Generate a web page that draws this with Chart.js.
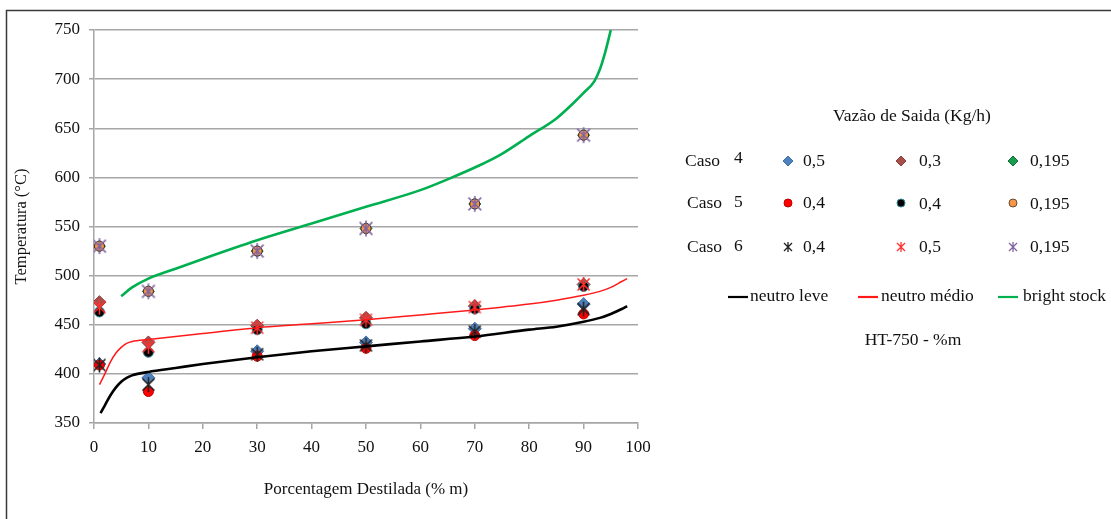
<!DOCTYPE html>
<html>
<head>
<meta charset="utf-8">
<script src="https://cdn.jsdelivr.net/npm/chart.js@4.4.1/dist/chart.umd.min.js"></script>
<style>
  html, body { margin: 0; padding: 0; background: #fff; }
  #wrap { width: 1111px; height: 519px; position: relative; }
</style>
</head>
<body>
<div id="wrap"><canvas id="c" width="1111" height="519"></canvas></div>
<script>
// Distilled fraction (% m) where samples were taken
const distPct = [1, 10, 30, 50, 70, 90];

// Caso 4 (diamonds)
const caso4Flows = ['0,5', '0,3', '0,195'];
const caso4_a = [410, 396, 423, 432, 446, 471];
const caso4_b = [473, 432, 449, 457, 469, 491];
const caso4_c = [530, 484, 525, 548, 573, 643];

// Caso 5 (circles)
const caso5Flows = ['0,4', '0,4', '0,195'];
const caso5_a = [409, 382, 418, 426, 439, 461];
const caso5_b = [463, 422, 445, 451, 466, 489];
const caso5_c = [530, 484, 525, 548, 573, 643];

// Caso 6 (stars)
const caso6Flows = ['0,4', '0,5', '0,195'];
const caso6_a = [409, 389, 420, 429, 443, 466];
const caso6_b = [468, 428, 447, 455, 468, 491];
const caso6_c = [530, 484, 525, 548, 573, 643];

// HT-750 reference curves (% m, °C)
const leveX = [1.2, 2, 3, 4, 5, 6, 7, 8, 10, 15, 20, 30, 40, 50, 60, 70, 80, 85, 90, 93, 95, 97, 98];
const leveY = [360, 368, 378, 386, 392, 396, 398.5, 400, 402, 406, 410, 417, 423, 428, 433, 438, 445, 448, 453, 457, 461, 466, 469];
const medioX = [1, 2, 3, 4, 5, 6, 7, 10, 20, 30, 40, 50, 60, 70, 80, 85, 90, 93, 95, 97, 98];
const medioY = [389, 400, 412, 421, 427, 431, 433, 435, 441, 447, 451, 455, 460, 465, 471, 475, 480, 484, 488, 494, 497];
const brightX = [5, 7, 10, 15, 20, 30, 40, 50, 60, 65, 70, 75, 80, 85, 88, 90, 92, 93, 94, 95];
const brightY = [479, 488, 497, 507, 517, 536, 553, 570, 587, 598, 610, 624, 642, 660, 675, 686, 698, 710, 728, 750];

// Axis ticks
const xTicks = [0, 10, 20, 30, 40, 50, 60, 70, 80, 90, 100];
const yTicks = [350, 400, 450, 500, 550, 600, 650, 700, 750];

const SERIF = '"Liberation Serif", "Times New Roman", serif';

function pts(xs, ys) { return xs.map((x, i) => ({ x: x, y: ys[i] })); }

// Asterisk marker: an X with a vertical stroke
function starImg(color, size, lw) {
  const c = document.createElement('canvas');
  c.width = size; c.height = size;
  const g = c.getContext('2d');
  g.strokeStyle = color; g.lineWidth = lw; g.lineCap = 'butt';
  const m = size / 2, r = size / 2 - 1, d = r * 0.8;
  g.beginPath();
  g.moveTo(m - d, m - d); g.lineTo(m + d, m + d);
  g.moveTo(m + d, m - d); g.lineTo(m - d, m + d);
  g.moveTo(m, m - r); g.lineTo(m, m + r);
  g.stroke();
  return c;
}

const COL = {
  blue: '#4f81bd', brown: '#a5504c', green: '#1a9c4f',
  red: '#ff0000', black: '#000000', orange: '#f79646',
  starBlack: '#222222', starRed: '#ff3030', starPurple: '#8064a2'
};

const starK = starImg(COL.starBlack, 17, 1.6);
const starR = starImg(COL.starRed, 17, 1.6);
const starP = starImg(COL.starPurple, 18, 1.5);
const starKs = starImg(COL.starBlack, 12, 1.3);
const starRs = starImg(COL.starRed, 12, 1.3);
const starPs = starImg(COL.starPurple, 12, 1.3);

function markerSet(label, data, style, fill, border, radius, order) {
  return {
    type: 'scatter', label: label, data: pts(distPct, data),
    pointStyle: style, pointRadius: radius, pointHoverRadius: radius,
    backgroundColor: fill, borderColor: border, pointBorderWidth: 1,
    showLine: false, order: order
  };
}

function curveSet(label, xs, ys, color, width, order) {
  return {
    type: 'line', label: label, data: pts(xs, ys),
    borderColor: color, backgroundColor: color, borderWidth: width,
    pointRadius: 0, pointHoverRadius: 0, fill: false,
    cubicInterpolationMode: 'monotone', order: order
  };
}

const datasets = [
  curveSet('neutro leve', leveX, leveY, '#000000', 2.6, 1),
  curveSet('neutro médio', medioX, medioY, '#ff1a1a', 1.5, 2),
  curveSet('bright stock', brightX, brightY, '#00b050', 2.6, 3),
  // lower cluster
  markerSet('Caso 6 ' + caso6Flows[0], caso6_a, starK, COL.starBlack, COL.starBlack, 8, 10),
  markerSet('Caso 5 ' + caso5Flows[0], caso5_a, 'circle', COL.red, '#c00000', 5, 11),
  markerSet('Caso 4 ' + caso4Flows[0], caso4_a, 'rectRot', COL.blue, '#3f6ea8', 6.5, 12),
  // middle cluster
  markerSet('Caso 6 ' + caso6Flows[1], caso6_b, starR, COL.starRed, COL.starRed, 8, 13),
  markerSet('Caso 5 ' + caso5Flows[1], caso5_b, 'circle', COL.black, '#2f8796', 5, 14),
  markerSet('Caso 4 ' + caso4Flows[1], caso4_b, 'rectRot', COL.brown, '#8d3e3b', 6.5, 15),
  // upper cluster
  markerSet('Caso 6 ' + caso6Flows[2], caso6_c, starP, COL.starPurple, COL.starPurple, 9, 16),
  markerSet('Caso 5 ' + caso5Flows[2], caso5_c, 'circle', COL.orange, '#3a2a20', 5, 17),
  markerSet('Caso 4 ' + caso4Flows[2], caso4_c, 'rectRot', COL.green, '#0e6e36', 6, 18)
];

function marker(ctx, style, fill, border, r, x, y) {
  ctx.save();
  ctx.fillStyle = fill; ctx.strokeStyle = border; ctx.lineWidth = 1;
  if (style === 'circle') {
    ctx.beginPath(); ctx.arc(x, y, r, 0, Math.PI * 2); ctx.fill(); ctx.stroke();
  } else if (style === 'rectRot') {
    ctx.beginPath();
    ctx.moveTo(x, y - r); ctx.lineTo(x + r, y); ctx.lineTo(x, y + r); ctx.lineTo(x - r, y);
    ctx.closePath(); ctx.fill(); ctx.stroke();
  } else {
    ctx.drawImage(style, x - style.width / 2, y - style.height / 2);
  }
  ctx.restore();
}

const panelPlugin = {
  id: 'panel',
  beforeDraw(chart) {
    const ctx = chart.ctx;
    ctx.save();
    ctx.fillStyle = '#fff';
    ctx.fillRect(0, 0, chart.width, chart.height);
    ctx.strokeStyle = '#3a3a3a';
    ctx.lineWidth = 1.5;
    ctx.beginPath();
    ctx.moveTo(6.5, chart.height); ctx.lineTo(6.5, 10.5); ctx.lineTo(chart.width, 10.5);
    ctx.stroke();
    ctx.restore();
  },
  afterDraw(chart) {
    const ctx = chart.ctx;
    ctx.save();
    ctx.fillStyle = '#111';
    ctx.textBaseline = 'middle';
    ctx.textAlign = 'left';
    ctx.font = '17.5px ' + SERIF;
    ctx.fillText('Vazão de Saida (Kg/h)', 833, 116);

    const rows = [
      { num: '4', y: 161, flows: caso4Flows,
        m: [['rectRot', COL.blue, '#3f6ea8', 5], ['rectRot', COL.brown, '#8d3e3b', 5], ['rectRot', COL.green, '#0e6e36', 5]] },
      { num: '5', y: 203, flows: caso5Flows,
        m: [['circle', COL.red, '#c00000', 4], ['circle', COL.black, '#2f8796', 4], ['circle', COL.orange, '#6b4a30', 4]] },
      { num: '6', y: 247, flows: caso6Flows,
        m: [[starKs, '', '', 0], [starRs, '', '', 0], [starPs, '', '', 0]] }
    ];
    const mx = [788, 901, 1013];
    const tx = [803, 919, 1030];
    rows.forEach((row, ri) => {
      ctx.fillStyle = '#111';
      ctx.fillText('Caso', ri === 0 ? 685 : 687, row.y);
      ctx.fillText(row.num, 734, row.y - (ri === 0 ? 3 : 1));
      row.m.forEach((m, i) => {
        marker(ctx, m[0], m[1], m[2], m[3], mx[i], row.y);
        ctx.fillStyle = '#111';
        ctx.fillText(row.flows[i], tx[i], row.y + (ri === 1 && i > 0 ? 1 : 0));
      });
    });

    // curve keys
    const keys = [
      ['neutro leve', '#000000', 728, 750],
      ['neutro médio', '#ff1a1a', 858, 881],
      ['bright stock', '#00b050', 998, 1023]
    ];
    keys.forEach(k => {
      ctx.strokeStyle = k[1]; ctx.lineWidth = 2.2;
      ctx.beginPath(); ctx.moveTo(k[2], 297); ctx.lineTo(k[2] + 20, 297); ctx.stroke();
      ctx.fillStyle = '#111';
      ctx.fillText(k[0], k[3], 296);
    });

    ctx.textAlign = 'center';
    ctx.fillText('HT-750 - %m', 913, 340);
    ctx.restore();
  }
};

new Chart(document.getElementById('c'), {
  type: 'scatter',
  data: { datasets: datasets },
  plugins: [panelPlugin],
  options: {
    responsive: false,
    animation: false,
    devicePixelRatio: 1,
    layout: { padding: { left: 0, top: 30, right: 473, bottom: 0 } },
    plugins: { legend: { display: false }, tooltip: { enabled: false } },
    scales: {
      x: {
        type: 'linear', min: 0, max: 100,
        afterFit(s) { s.height = 96; },
        afterBuildTicks(s) { s.ticks = xTicks.map(v => ({ value: v })); },
        border: { display: true, color: '#a6a6a6', width: 1.5 },
        grid: { drawOnChartArea: false, drawTicks: true, tickLength: 6, color: '#a6a6a6', lineWidth: 1.5 },
        ticks: { padding: 8, color: '#111', font: { family: SERIF, size: 17 }, maxRotation: 0 },
        title: { display: true, text: 'Porcentagem Destilada (% m)', color: '#111',
                 font: { family: SERIF, size: 17 }, padding: { top: 0, bottom: 19 } }
      },
      y: {
        type: 'linear', min: 350, max: 750,
        afterFit(s) { s.width = 94; },
        afterBuildTicks(s) { s.ticks = yTicks.map(v => ({ value: v })); },
        border: { display: true, color: '#a6a6a6', width: 1.5 },
        grid: { drawOnChartArea: true, drawTicks: true, tickLength: 5, color: '#a6a6a6', lineWidth: 1.5 },
        ticks: { padding: 9, color: '#111', font: { family: SERIF, size: 17 } },
        title: { display: true, text: 'Temperatura (°C)', color: '#111',
                 font: { family: SERIF, size: 16.5 }, padding: { top: 12, bottom: 0 } }
      }
    }
  }
});
</script>
</body>
</html>
